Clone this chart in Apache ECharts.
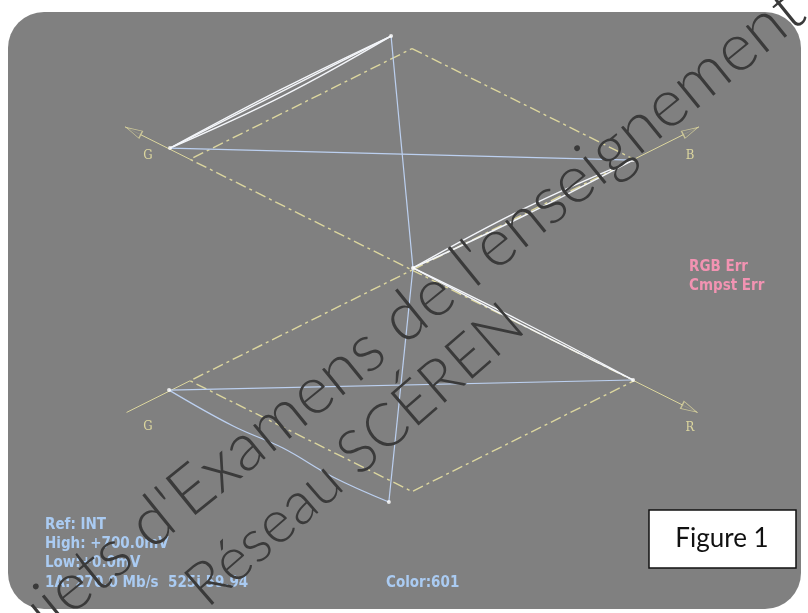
<!DOCTYPE html>
<html>
<head>
<meta charset="utf-8">
<script src="https://cdn.jsdelivr.net/npm/echarts@6/dist/echarts.min.js"></script>
<style>
html,body{margin:0;padding:0;background:#fff;}
#chart{width:808px;height:613px;}
</style>
</head>
<body>
<div id="chart"></div>
<script>
// Diamond display: x = B-G (upper) / R-G (lower) in mV, y = B+G (upper) / -(R+G) (lower) in mV
const diamondUpper = [[0,1400],[700,700],[0,0],[-700,700],[0,1400]];
const diamondLower = [[0,0],[700,-700],[0,-1400],[-700,-700],[0,0]];

const axisGUpper = [[-700,700],[-905,905]];
const axisB      = [[700,700],[905,905]];
const axisGLower = [[-700,-700],[-900,-900]];
const axisR      = [[700,-700],[900,-900]];
const arrowHeads = [[-878,878],[878,878],[875,-875]];
const arrowRot   = [63.4,-63.4,-116.6];

// measured trace vertices
const traceGreenToWhite1 = [[-763,771],[-414,1140],[-66,1479]];
const traceGreenToWhite2 = [[-763,771],[-66,1479]];
const traceGreenToWhite3 = [[-763,771],[-408,1100],[-66,1479]];
const traceGreenToBlue   = [[-763,771],[697,695]];
const traceWhiteToBlack  = [[-66,1479],[3,13]];
const traceBlueToBlack1  = [[697,695],[350,385],[3,13]];
const traceBlueToBlack2  = [[697,695],[350,340],[3,13]];
const traceBlackToRed1   = [[3,13],[350,-330],[697,-695]];
const traceBlackToRed2   = [[3,13],[350,-348],[697,-695]];
const traceRedToGreen    = [[697,-695],[-766,-759]];
const traceGreenToBottom = [[-766,-759],[-564,-986],[-407,-1125],[-249,-1308],[-73,-1466]];
const traceBlackToBottom = [[3,13],[-73,-1466]];
const traceDots = [[-763,771],[-66,1479],[697,695],[3,13],[-766,-759],[-73,-1466],[697,-695]];

const axisLetters = ['G','B','G','R'];
const infoLines = ['Ref: INT','High: +700.0mV','Low:+0.0mV','1A: 270.0 Mb/s  525i 59.94'];
const colorLabel = 'Color:601';
const errLines = ['RGB Err','Cmpst Err'];
const figureLabel = 'Figure 1';
const watermark1 = "Sujets d'Examens de l'enseignement";
const watermark2 = 'Réseau SCÉREN';

const KHAKI = '#dcd69e';
const dashStyle = {color: KHAKI, width: 1.4, type: [11,4,3,4]};

function lineSeries(data, style, z, smooth){
  return {type:'line', data:data, symbol:'none', silent:true, animation:false,
    lineStyle:style, z:z||2, smooth: smooth ? 0.4 : false};
}

const traceWhite = {color:'#f4f6fa', width:1.4};
const traceBlue = {color:'#bcd0f0', width:1.2};

const series = [
  lineSeries(diamondUpper, dashStyle),
  lineSeries(diamondLower, dashStyle),
  lineSeries(axisGUpper, {color:KHAKI, width:1}),
  lineSeries(axisB, {color:KHAKI, width:1}),
  lineSeries(axisGLower, {color:KHAKI, width:1}),
  lineSeries(axisR, {color:KHAKI, width:1}),
  {type:'scatter', silent:true, animation:false, symbol:'triangle', symbolSize:[8,16],
   data: arrowHeads.map((p,i)=>({value:p, symbolRotate:arrowRot[i]})),
   itemStyle:{color:'rgba(128,128,128,1)', borderColor:KHAKI, borderWidth:1}, z:3},
  lineSeries(traceGreenToWhite1, traceWhite, 4, true),
  lineSeries(traceGreenToWhite2, traceWhite, 4),
  lineSeries(traceGreenToWhite3, traceWhite, 4, true),
  lineSeries(traceGreenToBlue, traceBlue, 4),
  lineSeries(traceWhiteToBlack, traceBlue, 4),
  lineSeries(traceBlueToBlack1, traceWhite, 4, true),
  lineSeries(traceBlueToBlack2, traceWhite, 4, true),
  lineSeries(traceBlackToRed1, traceWhite, 4, true),
  lineSeries(traceBlackToRed2, traceWhite, 4, true),
  lineSeries(traceRedToGreen, traceBlue, 4),
  lineSeries(traceGreenToBottom, traceBlue, 4, true),
  lineSeries(traceBlackToBottom, traceBlue, 4),
  {type:'scatter', silent:true, animation:false, symbolSize:4, data:traceDots,
   itemStyle:{color:'#ffffff'}, z:5}
];

const infoFont = "bold 15px 'DejaVu Sans Condensed', 'Liberation Sans Narrow', sans-serif";
const letterFont = "13px 'DejaVu Serif Condensed', 'Liberation Serif', serif";
const graphic = [
  {type:'rect', z:-10, silent:true, shape:{x:8,y:12,width:793,height:597,r:36}, style:{fill:'#808080'}},
  {type:'text', x:148, y:156, style:{text:axisLetters[0], font:letterFont, fill:KHAKI, align:'center', verticalAlign:'middle'}},
  {type:'text', x:690, y:156, style:{text:axisLetters[1], font:letterFont, fill:KHAKI, align:'center', verticalAlign:'middle'}},
  {type:'text', x:148, y:427, style:{text:axisLetters[2], font:letterFont, fill:KHAKI, align:'center', verticalAlign:'middle'}},
  {type:'text', x:690, y:428, style:{text:axisLetters[3], font:letterFont, fill:KHAKI, align:'center', verticalAlign:'middle'}},
  {type:'text', x:689, y:267, style:{text:errLines[0], font:infoFont, fill:'#f293b2', verticalAlign:'middle'}},
  {type:'text', x:689, y:286, style:{text:errLines[1], font:infoFont, fill:'#f293b2', verticalAlign:'middle'}},
  {type:'text', x:45, y:525, style:{text:infoLines[0], font:infoFont, fill:'#aacbf2', verticalAlign:'middle'}},
  {type:'text', x:45, y:544, style:{text:infoLines[1], font:infoFont, fill:'#aacbf2', verticalAlign:'middle'}},
  {type:'text', x:45, y:563, style:{text:infoLines[2], font:infoFont, fill:'#aacbf2', verticalAlign:'middle'}},
  {type:'text', x:45, y:583, style:{text:infoLines[3], font:infoFont, fill:'#aacbf2', verticalAlign:'middle'}},
  {type:'text', x:386, y:583, style:{text:colorLabel, font:infoFont, fill:'#aacbf2', verticalAlign:'middle'}},
  {type:'rect', z:50, shape:{x:649,y:510,width:147,height:58}, style:{fill:'#ffffff', stroke:'#111', lineWidth:1.5}},
  {type:'text', z:51, x:722, y:539, style:{text:figureLabel, font:"26px Lato, 'Open Sans', sans-serif", fill:'#111', align:'center', verticalAlign:'middle'}},
  {type:'text', z:60, x:392, y:328, rotation:39*Math.PI/180, silent:true,
   style:{text:watermark1, font:"300 67px Lato, 'Open Sans', sans-serif", fill:'#3a3a3a', align:'center', verticalAlign:'middle'}},
  {type:'text', z:60, x:355, y:455, rotation:41*Math.PI/180, silent:true,
   style:{text:watermark2, font:"300 60px Lato, 'Open Sans', sans-serif", fill:'#3a3a3a', align:'center', verticalAlign:'middle'}}
];

const chart = echarts.init(document.getElementById('chart'), null, {renderer:'canvas'});
chart.setOption({
  backgroundColor:'#ffffff',
  animation:false,
  grid:{left:94.86, width:634.28, top:16.9, height:522.1},
  xAxis:{type:'value', min:-1000, max:1000, show:false},
  yAxis:{type:'value', min:-1700, max:1600, show:false},
  series:series,
  graphic:graphic
});
</script>
</body>
</html>
